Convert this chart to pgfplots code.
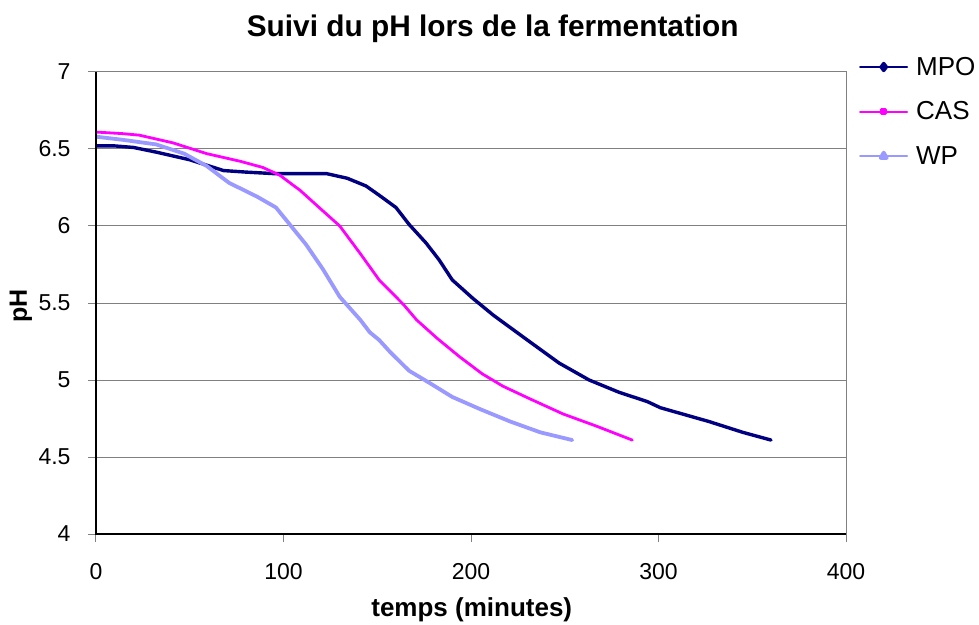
\documentclass[border=0pt]{standalone}
\usepackage{pgfplots}
\pgfplotsset{compat=1.18}
\usetikzlibrary{calc}
\usepackage{fontspec}
\setmainfont{Liberation Sans}
\definecolor{mpo}{RGB}{0,0,128}
\definecolor{cas}{RGB}{255,0,255}
\definecolor{wp}{RGB}{153,153,255}
\definecolor{gridgray}{RGB}{128,128,128}
\begin{document}
\begin{tikzpicture}
\begin{axis}[name=ax,
  scale only axis, width=750bp, height=462bp,
  xmin=0, xmax=400, ymin=4, ymax=7,
  xtick={0,100,200,300,400}, ytick={4,4.5,5,5.5,6,6.5,7},
  ymajorgrids, grid style={gridgray, line width=1bp},
  axis line style={gridgray, line width=1bp},
  tick style={gridgray, line width=1bp},
  tick align=outside, major tick length=8bp,
  xtick pos=left, ytick pos=left,
  ticklabel style={font=\fontsize{23bp}{27bp}\selectfont},
  /pgf/number format/assume math mode=true,
  xticklabel style={yshift=-18bp},
  yticklabel style={xshift=-14bp},
  legend style={draw=none, fill=none, at={(1,1)}, anchor=north west,
    xshift=13bp, yshift=17bp, font=\fontsize{26bp}{30bp}\selectfont,
    row sep=21bp, inner sep=0pt, column sep=6bp},
  legend cell align=left,
]
\addplot[mpo, line width=3.4bp, line join=round, line cap=round,
  legend image code/.code={\draw[mpo, line width=2bp] (0bp,0bp)--(47bp,0bp);
    \draw[mpo] plot[mark=diamond*, mark size=3.5bp] coordinates {(23.5bp,0bp)};}]
coordinates {
(0,6.52) (10,6.52) (20,6.51) (32,6.48) (50,6.43) (68,6.36) (80,6.35) (95,6.34)
(123,6.34) (134,6.31) (144,6.26) (151,6.20) (160,6.12) (167,6.01) (176,5.89)
(183,5.78) (190,5.65) (201,5.53) (212,5.42) (230,5.26) (247,5.11) (263,5.00)
(279,4.92) (294,4.86) (301,4.82) (327,4.73) (345,4.66) (360,4.61)
};
\addlegendentry{MPO}

\addplot[cas, line width=2.8bp, line join=round, line cap=round,
  legend image code/.code={\draw[cas, line width=2bp] (0bp,0bp)--(47bp,0bp);
    \draw[cas] plot[mark=square*, mark size=2bp] coordinates {(23.5bp,0bp)};}]
coordinates {
(0,6.61) (14,6.60) (23,6.59) (41,6.54) (59,6.47) (77,6.42) (89,6.38) (98,6.33)
(109,6.23) (119,6.12) (130,6.00) (141,5.82) (151,5.65) (164,5.49) (171,5.39)
(182,5.27) (194,5.15) (206,5.04) (217,4.96) (231,4.88) (249,4.78) (267,4.70)
(286,4.61)
};
\addlegendentry{CAS}

\addplot[wp, line width=3.8bp, line join=round, line cap=round,
  legend image code/.code={\draw[wp, line width=2bp] (0bp,0bp)--(47bp,0bp);
    \draw[wp] plot[mark=triangle*, mark size=3.5bp] coordinates {(23.5bp,0bp)};}]
coordinates {
(0,6.58) (14,6.56) (32,6.53) (47,6.47) (59,6.39) (71,6.28) (86,6.19) (96,6.12)
(104,6.00) (112,5.88) (121,5.72) (130,5.54) (141,5.39) (146,5.31) (151,5.26)
(157,5.18) (167,5.06) (178,4.98) (190,4.89) (205,4.81) (221,4.73) (237,4.66)
(254,4.61)
};
\addlegendentry{WP}
\end{axis}
\draw[black, line width=1.6bp] (ax.north west) -- (ax.south west) -- (ax.south east);
\node[anchor=base, font=\fontsize{29.8bp}{34bp}\selectfont\bfseries]
  at ($(ax.north west)!0.529!(ax.north east)+(0bp,35bp)$) {Suivi du pH lors de la fermentation};
\node[anchor=base, font=\fontsize{26bp}{30bp}\selectfont\bfseries]
  at ($(ax.south west)!0.501!(ax.south east)+(0bp,-82bp)$) {temps (minutes)};
\node[anchor=base, rotate=90, font=\fontsize{25bp}{29bp}\selectfont\bfseries]
  at ($(ax.south west)!0.494!(ax.north west)+(-69bp,0bp)$) {pH};
\pgfresetboundingbox
\path ([shift={(-96bp,-91bp)}]ax.south west) rectangle ([shift={(133bp,72bp)}]ax.north east);
\end{tikzpicture}
\end{document}
